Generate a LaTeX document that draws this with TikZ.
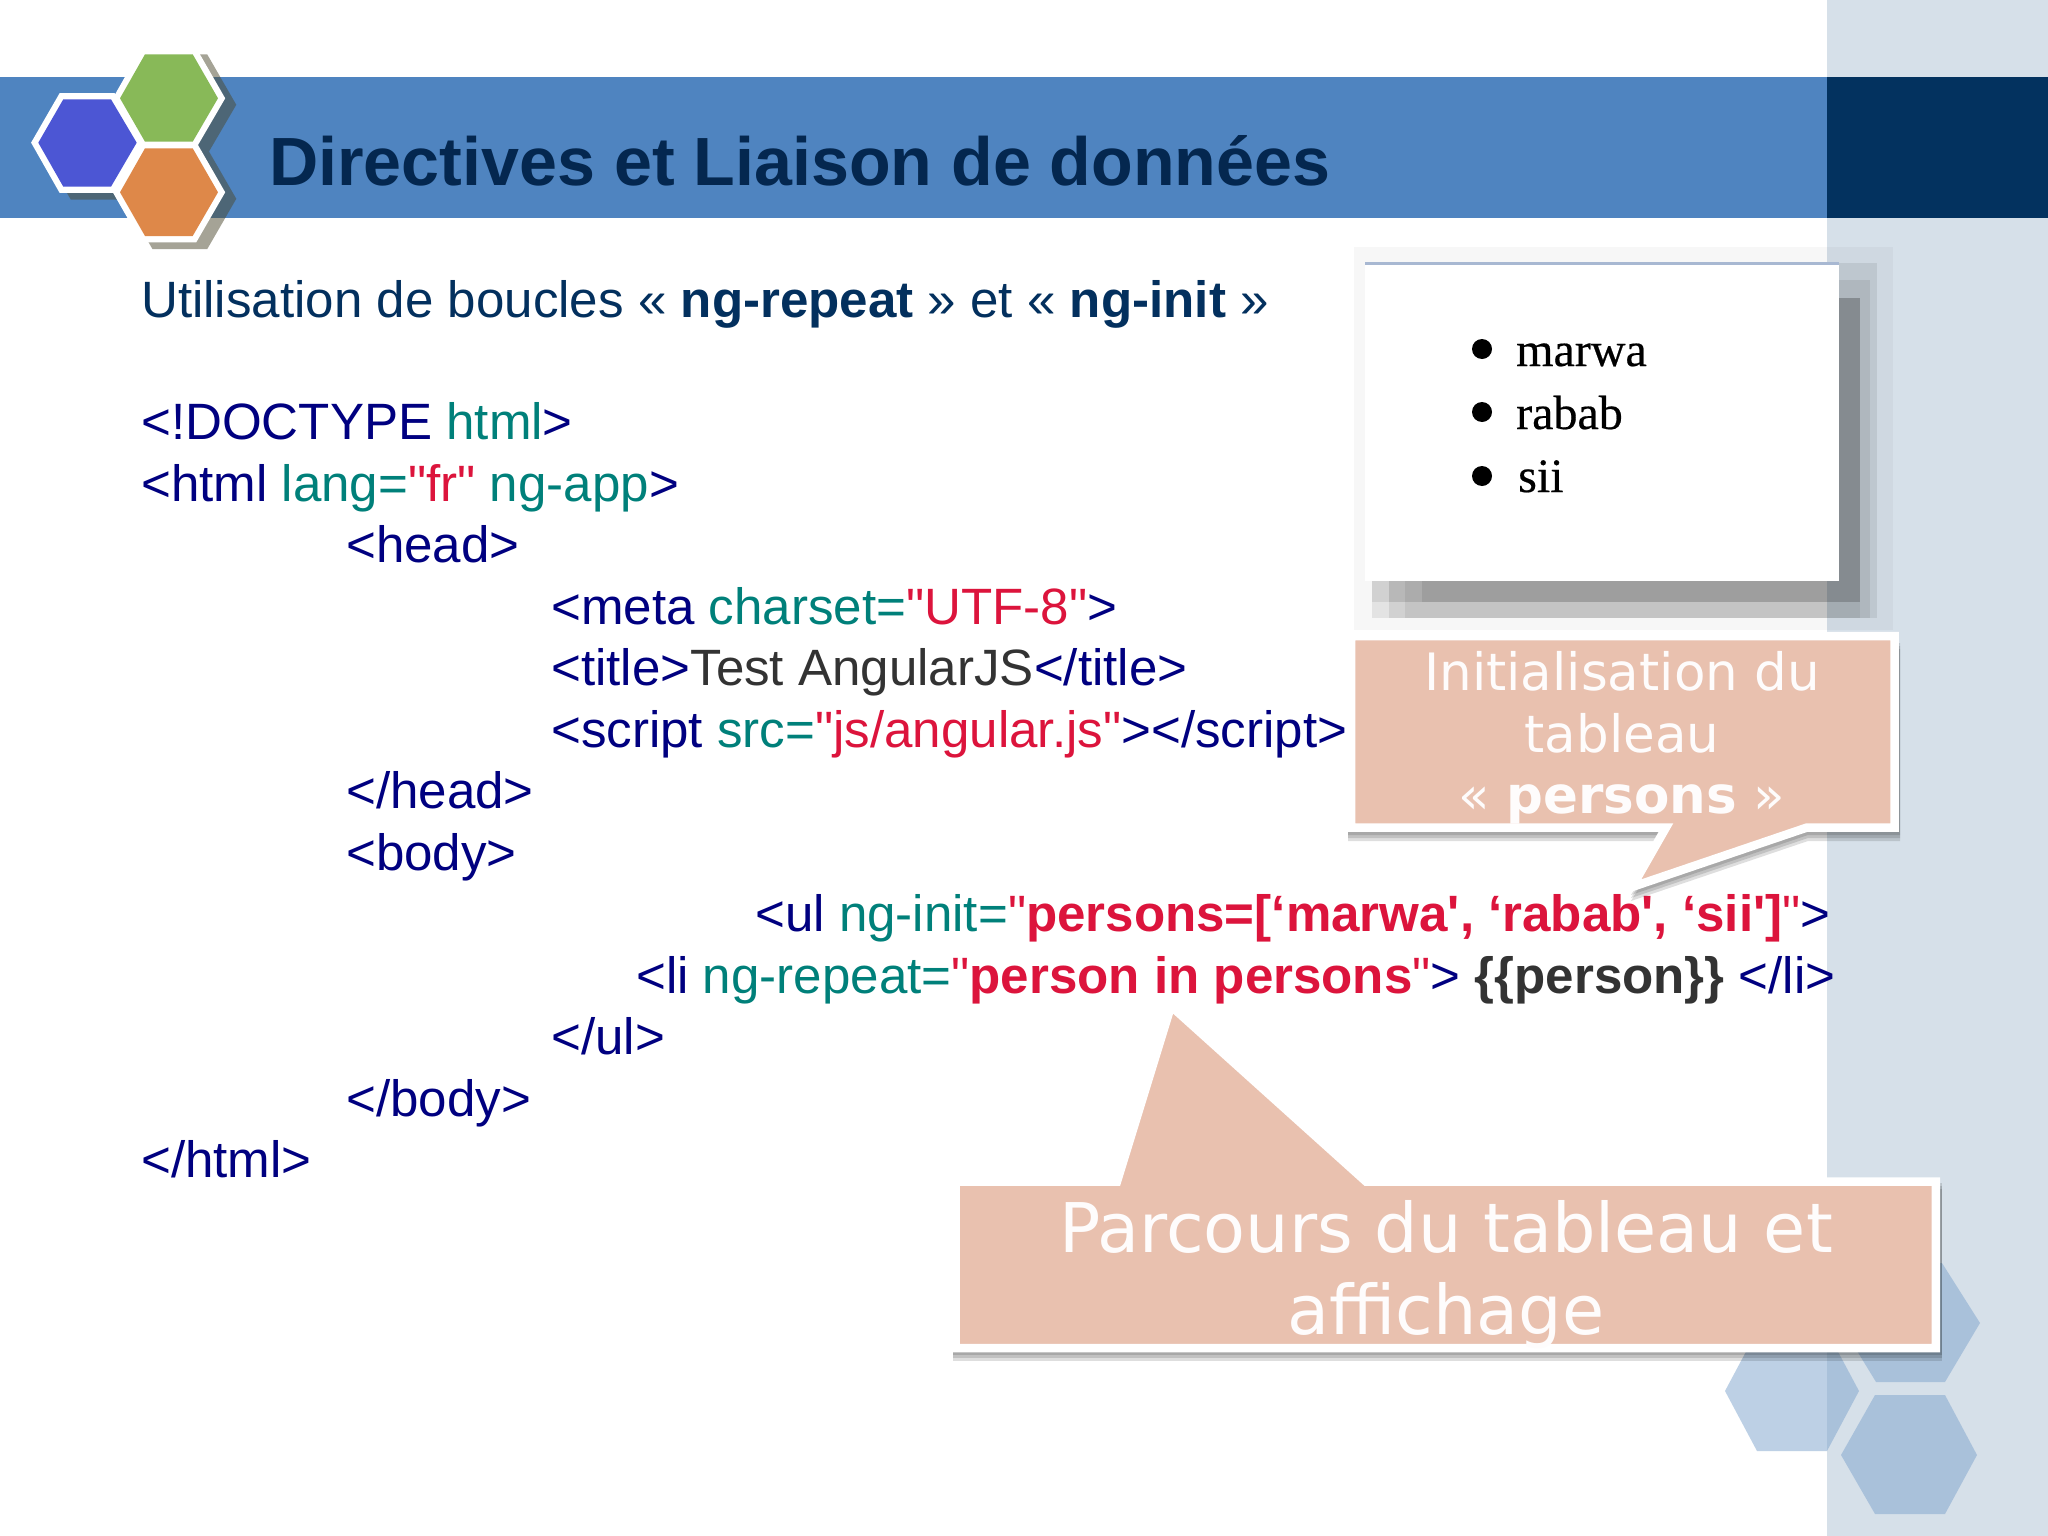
\documentclass[tikz,border=0pt]{standalone}
\usepackage{fontspec}
\setmainfont{Liberation Sans}
\newfontfamily\codefont{Liberation Sans}
\newfontfamily\calloutfont{DejaVu Sans}
\newfontfamily\shotfont[FakeBold=0.4]{Liberation Serif}
\definecolor{band}{HTML}{4F84C0}
\definecolor{panel}{HTML}{D6E0E9}
\definecolor{navyband}{HTML}{03325F}
\definecolor{titleblue}{HTML}{04274F}
\definecolor{introblue}{HTML}{03305E}
\definecolor{tag}{HTML}{000080}
\definecolor{attr}{HTML}{00807A}
\definecolor{val}{HTML}{DC143C}
\definecolor{plain}{HTML}{333333}
\definecolor{callout}{HTML}{E9C1AF}
\definecolor{hexblue}{HTML}{7DA3CD}
\definecolor{shotline}{HTML}{A8B8D2}
\definecolor{hexviolet}{HTML}{4C56D4}
\definecolor{hexgreen}{HTML}{88B958}
\definecolor{hexorange}{HTML}{DE8849}
\tikzset{
  codeline/.style={anchor=base west,inner sep=0pt,text=tag,font=\codefont\fontsize{51.1}{51.1}\selectfont},
  hexrim/.style={line width=12.5pt,draw=white,line join=miter},
  hexshadow/.style={fill=black!60!olive,fill opacity=.5},
  shotshade/.style={fill=black,fill opacity=#1},
  shottext/.style={anchor=base west,inner sep=0pt,text=black,font=\shotfont\fontsize{48}{48}\selectfont},
  shotdot/.style={circle,fill=black,inner sep=0pt,minimum size=20pt},
  bubble/.style={fill=callout,draw=white,line width=8.5pt,line join=miter,miter limit=10},
  bubbleshade/.style={fill=black,fill opacity=.13},
  bubbletext/.style={anchor=base,inner sep=0pt,text=white!96!callout,font=\calloutfont\fontsize{#1}{#1}\selectfont},
  deco/.style={fill=hexblue,fill opacity=.5}
}
\newcommand{\at}[1]{\textcolor{attr}{#1}}
\newcommand{\vl}[1]{\textcolor{val}{#1}}
\begin{document}
\begin{tikzpicture}[x=1pt,y=-1pt]
\useasboundingbox (0,0) rectangle (2048,1536);
\fill[white] (0,0) rectangle (2048,1536);
% panel and band
\fill[panel] (1827,0) rectangle (2048,1536);
\fill[band] (0,77) rectangle (1827,218);
\fill[navyband] (1827,77) rectangle (2048,218);
% decorative hexagons
\fill[deco] (1876,1263) -- (1942,1263) -- (1980,1323) -- (1945,1382) -- (1876,1382) -- (1840,1323) -- cycle;
\fill[deco] (1875,1395) -- (1945,1395) -- (1977,1455) -- (1945,1514) -- (1875,1514) -- (1841,1455) -- cycle;
\fill[deco] (1757,1331) -- (1827,1331) -- (1859,1391) -- (1827,1451) -- (1757,1451) -- (1725,1391) -- cycle;
% logo shadows
\begin{scope}[shift={(11,6.5)}]
\fill[hexshadow] (59.7,93) -- (114.6,93) -- (144,143) -- (114.6,193) -- (59.7,193) -- (31,143) -- cycle;
\fill[hexshadow] (141.4,48) -- (196.3,48) -- (225.3,98.3) -- (198,145) -- (225.3,192.3) -- (196.3,242.5) -- (141.4,242.5) -- (113,192.3) -- (140,145) -- (113,98.3) -- cycle;
\end{scope}
% logo
\draw[hexrim,fill=hexviolet] (63.3,99.3) -- (111,99.3) -- (136.7,142.7) -- (111,186.7) -- (63.3,186.7) -- (38.3,142.7) -- cycle;
\draw[hexrim,fill=hexgreen] (145,54.3) -- (192.7,54.3) -- (218,98.3) -- (192.7,141.7) -- (145,141.7) -- (120,98.3) -- cycle;
\draw[hexrim,fill=hexorange] (145,148.3) -- (192.7,148.3) -- (218,192.3) -- (192.7,236) -- (145,236) -- (120,192.3) -- cycle;
\fill[hexviolet] (63.3,99.3) -- (111,99.3) -- (136.7,142.7) -- (111,186.7) -- (63.3,186.7) -- (38.3,142.7) -- cycle;
\fill[hexgreen] (145,54.3) -- (192.7,54.3) -- (218,98.3) -- (192.7,141.7) -- (145,141.7) -- (120,98.3) -- cycle;
\fill[hexorange] (145,148.3) -- (192.7,148.3) -- (218,192.3) -- (192.7,236) -- (145,236) -- (120,192.3) -- cycle;
% title
\node[anchor=base west,inner sep=0pt,text=titleblue,font=\fontsize{68.2}{68.2}\selectfont\bfseries] (title) at (269,185) {Directives et Liaison de données};
% intro and code
\node[codeline,text=introblue] (intro) at (141,317) {Utilisation de boucles « \textbf{ng-repeat} » et « \textbf{ng-init} »};
\node[codeline] (l1) at (141,439.5) {<!DOCTYPE \at{html}>};
\node[codeline] (l2) at (141,501) {<html \at{lang=}\vl{"fr"} \at{ng-app}>};
\node[codeline] (l3) at (346,562.5) {<head>};
\node[codeline] (l4) at (551,624) {<meta \at{charset=}\vl{"UTF-8"}>};
\node[codeline] (l5) at (551,685.5) {<title>\textcolor{plain}{Test AngularJS}</title>};
\node[codeline] (l6) at (551,747) {<script \at{src=}\vl{"js/angular.js"}></script>};
\node[codeline] (l7) at (346,808.5) {</head>};
\node[codeline] (l8) at (346,870) {<body>};
\node[codeline] (l9) at (755,931.5) {<ul \at{ng-init=}\vl{"\textbf{persons=[‘marwa', ‘rabab', ‘sii']}"}>};
\node[codeline] (l10) at (636,993) {<li \at{ng-repeat=}\vl{"\textbf{person in persons}"}> \textcolor{plain}{\textbf{\{\{person\}\}}} </li>};
\node[codeline] (l11) at (551,1054.5) {</ul>};
\node[codeline] (l12) at (346,1116) {</body>};
\node[codeline] (l13) at (141,1177.5) {</html>};
% screenshot
\fill[shotshade=.03] (1354,247) rectangle (1893,630);
\fill[shotshade=.08] (1372,263) rectangle (1877,618);
\fill[shotshade=.08] (1389,280) rectangle (1870,618);
\fill[shotshade=.06] (1405,298) rectangle (1860,618);
\fill[shotshade=.08] (1372,298) rectangle (1860,602);
\fill[shotshade=.04] (1389,298) rectangle (1860,602);
\fill[shotshade=.08] (1422,298) rectangle (1860,602);
\fill[white] (1365,263) rectangle (1839,581);
\fill[shotline] (1365,262) rectangle (1839,265);
\node[shotdot] (d1) at (1482,349) {};
\node[shotdot] (d2) at (1482,412) {};
\node[shotdot] (d3) at (1482,476) {};
\node[shottext] (t1) at (1516,366) {marwa};
\node[shottext] (t2) at (1516,429) {rabab};
\node[shottext] (t3) at (1518,492) {sii};
% callout 1
\foreach \d in {3,6,9}
  \fill[bubbleshade,shift={(1,\d)}] (1347,640) -- (1899,640) -- (1899,832) -- (1807,832) -- (1630,892) -- (1666,832) -- (1347,832) -- cycle;
\draw[bubble] (1351,636) -- (1894.5,636) -- (1894.5,827.5) -- (1807,827.5) -- (1632,887) -- (1666,827.5) -- (1351,827.5) -- cycle;
\node[bubbletext=51.5] (c1a) at (1622,690) {Initialisation du};
\node[bubbletext=51.5] (c1b) at (1622,752) {tableau};
\node[bubbletext=51.5] (c1c) at (1622,813) {« \textbf{persons} »};
% callout 2
\foreach \d in {3,6,9}
  \fill[bubbleshade,shift={(2,\d)}] (951,1180) -- (1940,1180) -- (1940,1352) -- (951,1352) -- cycle;
\draw[bubble] (955.7,1181.5) -- (1117,1181.5) -- (1171,1006) -- (1366,1181.5) -- (1935.8,1181.5) -- (1935.8,1348) -- (955.7,1348) -- cycle;
\node[bubbletext=68.5] (c2a) at (1446,1252) {Parcours du tableau et};
\node[bubbletext=68.5] (c2b) at (1446,1334) {affichage};
\end{tikzpicture}
\end{document}
